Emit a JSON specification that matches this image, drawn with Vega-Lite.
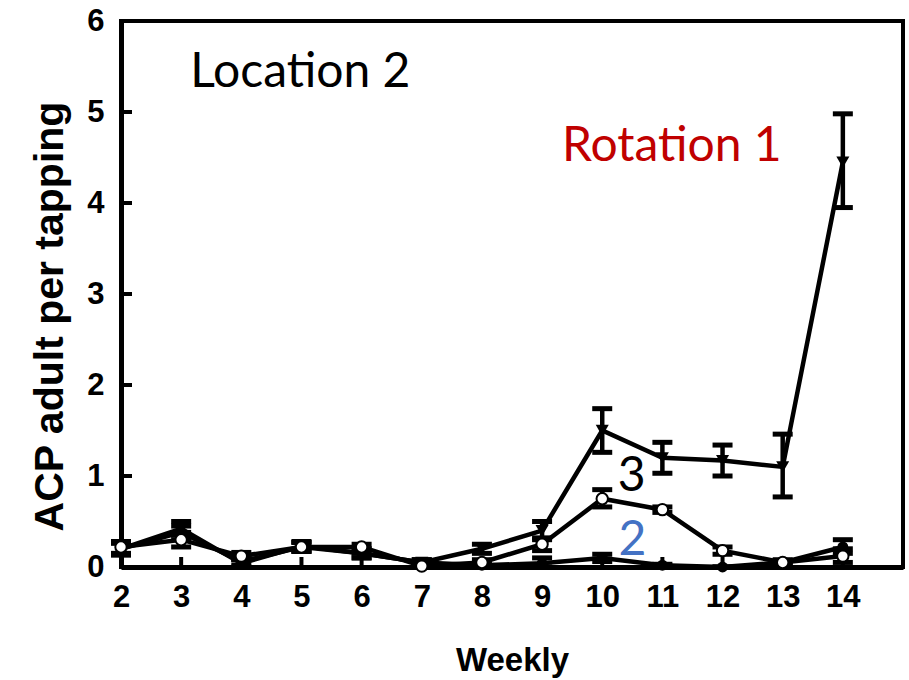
{
  "$schema": "https://vega.github.io/schema/vega-lite/v6.json",
  "autosize": "none",
  "width": 782,
  "height": 546,
  "padding": {"left": 121, "top": 21, "right": 6, "bottom": 113},
  "background": "white",
  "config": {
    "view": {"stroke": "black", "strokeWidth": 4},
    "axis": {"grid": false}
  },
  "datasets": {
    "pts": [
      {"week": 2, "series": "T", "value": 0.2, "lo": 0.13, "hi": 0.27},
      {"week": 3, "series": "T", "value": 0.42, "lo": 0.35, "hi": 0.5},
      {"week": 4, "series": "T", "value": 0.04, "lo": 0.0, "hi": 0.08},
      {"week": 5, "series": "T", "value": 0.23, "lo": 0.18, "hi": 0.28},
      {"week": 6, "series": "T", "value": 0.15, "lo": 0.1, "hi": 0.2},
      {"week": 7, "series": "T", "value": 0.05, "lo": 0.02, "hi": 0.08},
      {"week": 8, "series": "T", "value": 0.2, "lo": 0.15, "hi": 0.25},
      {"week": 9, "series": "T", "value": 0.4, "lo": 0.3, "hi": 0.5},
      {"week": 10, "series": "T", "value": 1.5, "lo": 1.26, "hi": 1.74},
      {"week": 11, "series": "T", "value": 1.2, "lo": 1.03, "hi": 1.37},
      {"week": 12, "series": "T", "value": 1.17, "lo": 1.0, "hi": 1.34},
      {"week": 13, "series": "T", "value": 1.1, "lo": 0.77, "hi": 1.46},
      {"week": 14, "series": "T", "value": 4.45, "lo": 3.95, "hi": 4.98},
      {"week": 2, "series": "O", "value": 0.22, "lo": 0.15, "hi": 0.28},
      {"week": 3, "series": "O", "value": 0.3, "lo": 0.22, "hi": 0.38},
      {"week": 4, "series": "O", "value": 0.12, "lo": 0.08, "hi": 0.16},
      {"week": 5, "series": "O", "value": 0.22, "lo": 0.17, "hi": 0.27},
      {"week": 6, "series": "O", "value": 0.22, "lo": 0.15, "hi": 0.25},
      {"week": 7, "series": "O", "value": 0.01, "lo": 0.0, "hi": 0.04},
      {"week": 8, "series": "O", "value": 0.05, "lo": 0.02, "hi": 0.08},
      {"week": 9, "series": "O", "value": 0.25, "lo": 0.18, "hi": 0.32},
      {"week": 10, "series": "O", "value": 0.75, "lo": 0.66, "hi": 0.85},
      {"week": 11, "series": "O", "value": 0.63, "lo": 0.6, "hi": 0.66},
      {"week": 12, "series": "O", "value": 0.18, "lo": 0.14, "hi": 0.22},
      {"week": 13, "series": "O", "value": 0.05, "lo": 0.02, "hi": 0.08},
      {"week": 14, "series": "O", "value": 0.12, "lo": 0.05, "hi": 0.2},
      {"week": 2, "series": "F", "value": 0.2, "lo": 0.14, "hi": 0.26},
      {"week": 3, "series": "F", "value": 0.38, "lo": 0.3, "hi": 0.45},
      {"week": 4, "series": "F", "value": 0.06, "lo": 0.02, "hi": 0.1},
      {"week": 5, "series": "F", "value": 0.22, "lo": 0.17, "hi": 0.27},
      {"week": 6, "series": "F", "value": 0.15, "lo": 0.1, "hi": 0.2},
      {"week": 7, "series": "F", "value": 0.05, "lo": 0.02, "hi": 0.08},
      {"week": 8, "series": "F", "value": 0.02, "lo": 0.01, "hi": 0.03},
      {"week": 9, "series": "F", "value": 0.04, "lo": 0.0, "hi": 0.1},
      {"week": 10, "series": "F", "value": 0.1, "lo": 0.06, "hi": 0.14},
      {"week": 11, "series": "F", "value": 0.02, "lo": 0.01, "hi": 0.03},
      {"week": 12, "series": "F", "value": 0.0, "lo": 0.0, "hi": 0.0},
      {"week": 13, "series": "F", "value": 0.05, "lo": 0.03, "hi": 0.07},
      {"week": 14, "series": "F", "value": 0.22, "lo": 0.15, "hi": 0.3}
    ],
    "notes": [
      {"label": "Location 2", "week": 3.15, "value": 5.28, "kind": "a"},
      {"label": "Rotation 1", "week": 9.33, "value": 4.46, "kind": "b"},
      {"label": "3", "week": 10.26, "value": 0.83, "kind": "a"},
      {"label": "2", "week": 10.27, "value": 0.13, "kind": "c"}
    ],
    "xt": [
      {"week": 3, "value": 0}, {"week": 4, "value": 0}, {"week": 5, "value": 0}, {"week": 6, "value": 0},
      {"week": 7, "value": 0}, {"week": 8, "value": 0}, {"week": 9, "value": 0}, {"week": 10, "value": 0},
      {"week": 11, "value": 0}, {"week": 12, "value": 0}, {"week": 13, "value": 0}, {"week": 14, "value": 0}
    ],
    "yt": [
      {"week": 2, "value": 1}, {"week": 2, "value": 2}, {"week": 2, "value": 3}, {"week": 2, "value": 4}, {"week": 2, "value": 5}
    ]
  },
  "encoding": {
    "x": {
      "field": "week", "type": "quantitative",
      "scale": {"domain": [2, 15], "nice": false, "zero": false},
      "axis": {
        "title": "Weekly",
        "values": [2, 3, 4, 5, 6, 7, 8, 9, 10, 11, 12, 13, 14],
        "format": "d",
        "domainColor": "black", "domainWidth": 5,
        "ticks": false,
        "labelPadding": 15,
        "labelFont": "Liberation Sans", "labelFontWeight": "bold", "labelFontSize": 31, "labelColor": "black",
        "labelFlush": false,
        "titleFont": "Liberation Sans", "titleFontWeight": "bold", "titleFontSize": 33, "titleColor": "black",
        "titleY": 93, "titleBaseline": "middle"
      }
    },
    "y": {
      "field": "value", "type": "quantitative",
      "scale": {"domain": [0, 6], "nice": false},
      "axis": {
        "title": "ACP adult per tapping",
        "values": [0, 1, 2, 3, 4, 5, 6],
        "format": "d",
        "domainColor": "black", "domainWidth": 5,
        "ticks": false,
        "labelPadding": 17,
        "labelFont": "Liberation Sans", "labelFontWeight": "bold", "labelFontSize": 31, "labelColor": "black",
        "labelFlush": false,
        "titleFont": "Liberation Sans", "titleFontWeight": "bold", "titleFontSize": 41, "titleColor": "black",
        "titleX": -71, "titleY": 295, "titleBaseline": "middle", "titleAngle": -90, "titleAlign": "center"
      }
    }
  },
  "layer": [
    {
      "data": {"name": "xt"},
      "mark": {"type": "tick", "color": "black", "opacity": 1, "thickness": 4, "size": 10, "orient": "vertical", "yOffset": -5}
    },
    {
      "data": {"name": "yt"},
      "mark": {"type": "tick", "color": "black", "opacity": 1, "thickness": 4, "size": 11, "orient": "horizontal", "xOffset": 5.5}
    },
    {
      "data": {"name": "pts"},
      "mark": {"type": "line", "color": "black", "strokeWidth": 4.5},
      "encoding": {"detail": {"field": "series"}}
    },
    {
      "data": {"name": "pts"},
      "mark": {"type": "rule", "color": "black", "strokeWidth": 4.5},
      "encoding": {"y": {"field": "lo", "type": "quantitative"}, "y2": {"field": "hi"}}
    },
    {
      "data": {"name": "pts"},
      "mark": {"type": "tick", "color": "black", "opacity": 1, "thickness": 5, "size": 20, "orient": "horizontal"},
      "encoding": {"y": {"field": "lo", "type": "quantitative"}}
    },
    {
      "data": {"name": "pts"},
      "mark": {"type": "tick", "color": "black", "opacity": 1, "thickness": 5, "size": 20, "orient": "horizontal"},
      "encoding": {"y": {"field": "hi", "type": "quantitative"}}
    },
    {
      "data": {"name": "pts"},
      "transform": [{"filter": "datum.series === 'T'"}],
      "mark": {"type": "point", "shape": "triangle-down", "filled": true, "color": "black", "size": 170, "opacity": 1}
    },
    {
      "data": {"name": "pts"},
      "transform": [{"filter": "datum.series === 'F'"}],
      "mark": {"type": "point", "shape": "circle", "filled": true, "color": "black", "size": 120, "opacity": 1}
    },
    {
      "data": {"name": "pts"},
      "transform": [{"filter": "datum.series === 'O'"}],
      "mark": {"type": "point", "shape": "circle", "filled": true, "fill": "white", "stroke": "black", "strokeWidth": 2, "size": 130, "opacity": 1}
    },
    {
      "data": {"name": "notes"},
      "mark": {"type": "text", "font": "Lato", "fontSize": 48, "align": "left", "baseline": "alphabetic"},
      "encoding": {
        "text": {"field": "label"},
        "color": {
          "field": "kind", "type": "nominal", "legend": null,
          "scale": {"domain": ["a", "b", "c"], "range": ["black", "#C00000", "#4472C4"]}
        }
      }
    }
  ]
}
